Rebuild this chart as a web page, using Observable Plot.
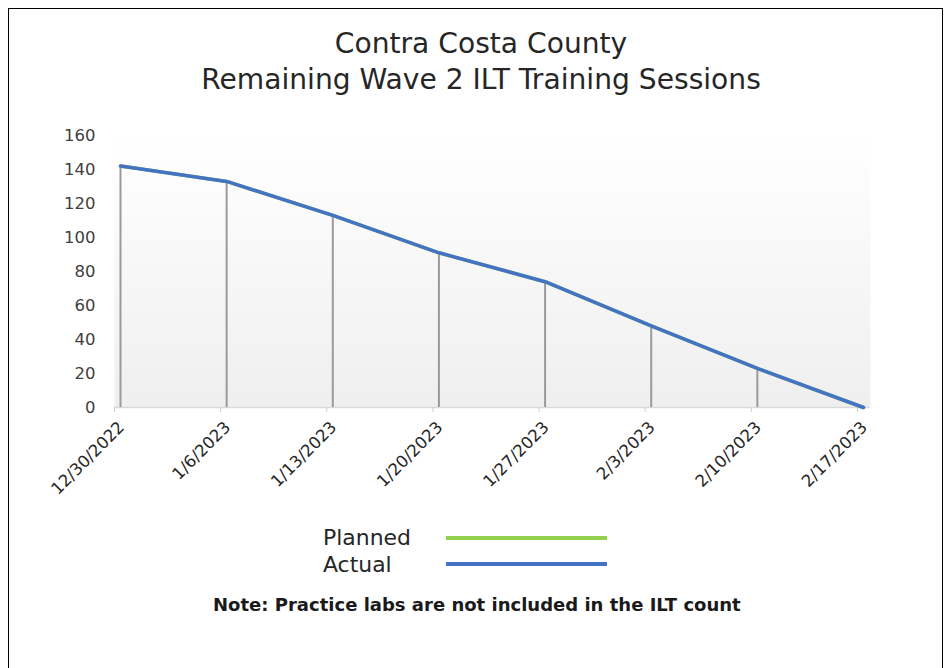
<!DOCTYPE html>
<html>
<head>
<meta charset="utf-8">
<script src="https://cdn.jsdelivr.net/npm/d3@7"></script>
<script src="https://cdn.jsdelivr.net/npm/@observablehq/plot@0.6"></script>
<style>
  html, body { margin: 0; padding: 0; background: #fff; }
  body { width: 946px; height: 668px; position: relative; overflow: hidden; font-family: "DejaVu Sans", sans-serif; color: #262626; }
  #border { position: absolute; left: 8px; top: 8px; width: 935px; height: 680px; border: 1px solid #000; box-sizing: border-box; }
  .txt { position: absolute; white-space: nowrap; line-height: 1; font-family: "DejaVu Sans", sans-serif; }
  #chart { position: absolute; left: 0; top: 120px; }
  .legline { position: absolute; height: 4px; }
</style>
</head>
<body>
<div id="border"></div>
<div id="chart"></div>
<div class="legline" style="left:446px; top:536px; width:161px; background:#92d050"></div>
<div class="legline" style="left:446px; top:562px; width:161px; background:#4472c4"></div>
<script>
const titleLines = ["Contra Costa County", "Remaining Wave 2 ILT Training Sessions"];
const legendLabels = ["Planned", "Actual"];
const noteText = "Note: Practice labs are not included in the ILT count";
const dates = ["2022-12-30","2023-01-06","2023-01-13","2023-01-20","2023-01-27","2023-02-03","2023-02-10","2023-02-17"];
const tickLabels = ["12/30/2022","1/6/2023","1/13/2023","1/20/2023","1/27/2023","2/3/2023","2/10/2023","2/17/2023"];
const actual = [142, 133, 113, 91, 74, 48, 23, 0];
const planned = [142, 133, 113, 91, 74, 48, 23, 0];
const yTicks = [0, 20, 40, 60, 80, 100, 120, 140, 160];

// text helpers: measure, fit a size to a reference width, position by baseline
function makeText(text, weight, color) {
  const el = document.createElement("div");
  el.className = "txt";
  el.textContent = text;
  el.style.fontSize = "20px";
  el.style.fontWeight = weight || "normal";
  el.style.color = color || "#262626";
  document.body.appendChild(el);
  return el;
}
function fitSize(el, width) {
  el.style.fontSize = "20px";
  return 20 * width / el.getBoundingClientRect().width;
}
function setAt(el, fs, left, baseline, center) {
  el.style.fontSize = fs + "px";
  const w = el.getBoundingClientRect().width;
  el.style.left = (center ? left - w / 2 : left) + "px";
  el.style.top = (baseline - 0.846 * fs) + "px";
}
const t1 = makeText(titleLines[0]), t2 = makeText(titleLines[1]);
const tfs = fitSize(t2, 560);
setAt(t1, tfs, 481, 54, true);
setAt(t2, tfs, 481, 90, true);
const l1 = makeText(legendLabels[0]), l2 = makeText(legendLabels[1]);
const lfs = fitSize(l1, 88);
setAt(l1, lfs, 323, 546, false);
setAt(l2, lfs, 323, 573, false);
const nt = makeText(noteText, "bold", "#1a1a1a");
setAt(nt, fitSize(nt, 528), 213, 611, false);

const dateObjs = dates.map(d => new Date(d + "T00:00:00Z"));
const rows = dateObjs.map((d, i) => ({date: d, actual: actual[i], planned: planned[i]}));
const labelOf = new Map(dateObjs.map((d, i) => [+d, tickLabels[i]]));

const gradDefs = () => {
  const defs = d3.create("svg:defs");
  const g = defs.append("linearGradient").attr("id", "bgGrad").attr("x1", 0).attr("y1", 0).attr("x2", 0).attr("y2", 1);
  g.append("stop").attr("offset", "0%").attr("stop-color", "#ffffff");
  g.append("stop").attr("offset", "100%").attr("stop-color", "#efefef");
  return defs.node();
};

const chart = Plot.plot({
  width: 946,
  height: 380,
  marginTop: 15,
  marginBottom: 93,
  marginLeft: 114,
  marginRight: 76,
  style: {fontFamily: "'DejaVu Sans', sans-serif", fontSize: "16.5px", color: "#404040", background: "transparent", overflow: "visible"},
  x: {type: "utc", domain: [dateObjs[0], dateObjs[dateObjs.length - 1]], range: [120, 863]},
  y: {domain: [0, 160], range: [407 - 120, 135 - 120]},
  marks: [
    gradDefs,
    Plot.frame({fill: "url(#bgGrad)", stroke: null}),
    Plot.ruleY([0], {stroke: "#d9d9d9", strokeWidth: 1.5}),
    Plot.axisY({ticks: yTicks, tickSize: 0, tickPadding: 19, label: null, fontSize: 16.5, fill: "#404040"}),
    Plot.axisX({ticks: dateObjs, tickSize: 5, tickFormat: () => "", stroke: "#d0d0d0", dx: -6, label: null}),
    Plot.axisX({ticks: dateObjs, tickSize: 0, tickPadding: 17, tickRotate: -45, tickFormat: d => labelOf.get(+d), label: null, fontSize: 16.5, fill: "#262626", dx: 1}),
    Plot.ruleX(rows, {x: "date", y1: 0, y2: "actual", stroke: "#9a9a9a", strokeWidth: 2}),
    Plot.line(rows, {x: "date", y: "planned", stroke: "#92d050", strokeWidth: 3.5}),
    Plot.line(rows, {x: "date", y: "actual", stroke: "#4472c4", strokeWidth: 3.5})
  ]
});
document.getElementById("chart").appendChild(chart);
</script>
</body>
</html>
